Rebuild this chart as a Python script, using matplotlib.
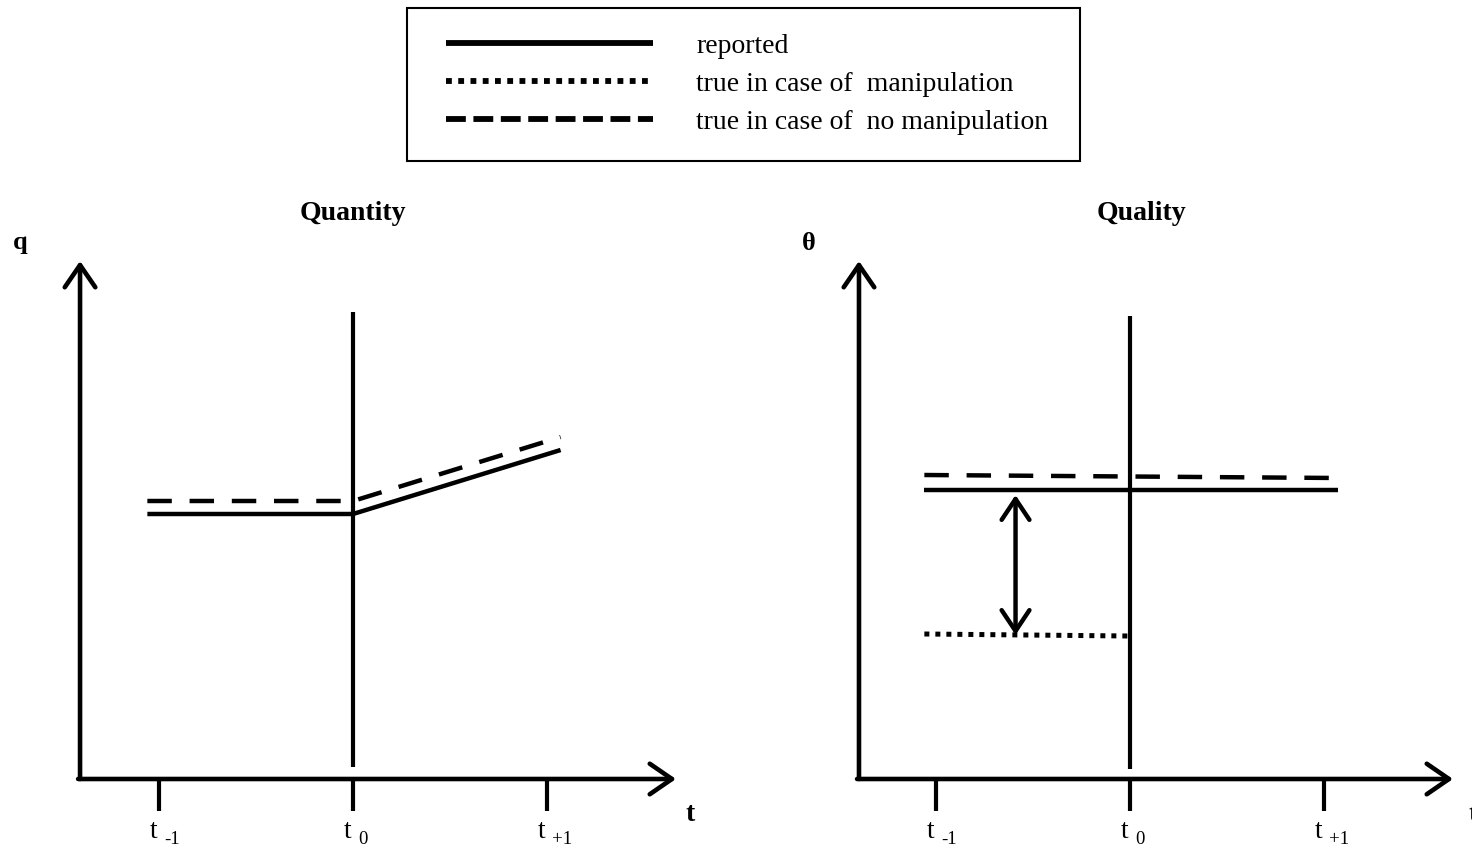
import matplotlib.pyplot as plt
from matplotlib.lines import Line2D
from matplotlib.patches import Rectangle

plt.rcParams['font.family'] = ['Liberation Serif', 'DejaVu Serif']

# --- time points (t_-1, t_0, t_+1) ---
t_pos = [-1, 0, 1]
t_subs = ['-1', '0', '+1']

# --- Quantity panel ---
q_x = [-1.06, 0, 1.07]
q_reported = [2.65, 2.65, 3.29]
q_no_manip = [2.78, 2.78, 3.42]

# --- Quality panel ---
th_x = [-1.06, 1.07]
th_reported = [2.89, 2.89]
th_no_manip = [3.04, 3.01]
th_manip_x = [-1.06, -0.01]
th_manip = [1.45, 1.43]
gap_x = -0.59

DASH = (0, (5.5, 4.0))
DOT = (0, (1, 1.2))

fig = plt.figure(figsize=(14.72, 8.53), dpi=100)

# pixel layout helpers (1 x unit = 194 px, 1 y unit = 100 px)
W, H = 1472, 853
top_px = 180
base_px = 780


def make_panel(x0_px, x1_px, origin_px):
    ax = fig.add_axes([x0_px / W, 0, (x1_px - x0_px) / W, (H - top_px) / H])
    ax.set_xlim((x0_px - origin_px) / 194, (x1_px - origin_px) / 194)
    ax.set_ylim((base_px - H) / 100, (base_px - top_px) / 100)
    ax.axis('off')
    return ax


def draw_axes(ax, x_start, x_end, y_top, xlabel_x, ylabel, ylabel_x):
    arrow = dict(arrowstyle='->,head_length=0.8,head_width=0.55', lw=3.3,
                 color='black', mutation_scale=20, shrinkA=0, shrinkB=0)
    ax.annotate('', xy=(x_end, 0), xytext=(x_start - 0.01, 0), arrowprops=arrow)
    ax.annotate('', xy=(x_start, y_top), xytext=(x_start, 0), arrowprops=arrow)
    for xt, sub in zip(t_pos, t_subs):
        ax.plot([xt, xt], [0, -0.32], color='black', lw=3.0, solid_capstyle='butt')
        ax.text(xt - 0.01, -0.52, 't', ha='right', va='center', fontsize=20)
        ax.text(xt + 0.025, -0.6, sub, ha='left', va='center', fontsize=13.5)
    ax.text(xlabel_x, -0.35, 't', ha='center', va='center', fontsize=20,
            fontweight='bold')
    ax.text(ylabel_x, 5.37, ylabel, ha='center', va='center', fontsize=19,
            fontweight='bold')


# ---------------- Quantity ----------------
ax1 = make_panel(0, 736, 353)
draw_axes(ax1, -1.407, 1.665, 5.18, 1.74, 'q', -1.717)
ax1.plot([0, 0], [0.12, 4.67], color='black', lw=3.0, solid_capstyle='butt')
ax1.plot(q_x, q_reported, color='black', lw=3.2, solid_capstyle='butt')
ax1.plot(q_x, q_no_manip, color='black', lw=3.2, linestyle=DASH,
         dash_capstyle='butt')
ax1.text(0, 5.66, 'Quantity', ha='center', va='center', fontsize=20,
         fontweight='bold')

# ---------------- Quality ----------------
ax2 = make_panel(736, 1472, 1130)
draw_axes(ax2, -1.397, 1.665, 5.18, 1.77, '\u03b8', -1.655)
ax2.plot([0, 0], [0.1, 4.63], color='black', lw=3.0, solid_capstyle='butt')
ax2.plot(th_x, th_reported, color='black', lw=3.2, solid_capstyle='butt')
ax2.plot(th_x, th_no_manip, color='black', lw=3.2, linestyle=DASH,
         dash_capstyle='butt')
ax2.plot(th_manip_x, th_manip, color='black', lw=3.6, linestyle=DOT,
         dash_capstyle='butt')
ax2.annotate('', xy=(gap_x, th_reported[0] - 0.05), xytext=(gap_x, th_manip[0] - 0.01),
             arrowprops=dict(arrowstyle='<->,head_length=0.75,head_width=0.5',
                             lw=3.2, color='black', mutation_scale=20,
                             shrinkA=0, shrinkB=0))
ax2.text(0.06, 5.66, 'Quality', ha='center', va='center', fontsize=20,
         fontweight='bold')

# ---------------- Legend ----------------
handles = [
    Line2D([], [], color='black', lw=4.2, solid_capstyle='butt'),
    Line2D([], [], color='black', lw=4.2, linestyle=(0, (1, 1.1)),
           dash_capstyle='butt'),
    Line2D([], [], color='black', lw=4.2, linestyle=(0, (3.4, 1.3)),
           dash_capstyle='butt'),
]
labels = ['reported', 'true in case of  manipulation',
          'true in case of  no manipulation']
leg = fig.legend(handles, labels, loc='upper left',
                 bbox_to_anchor=(446 / W, 1 - 34 / H), fontsize=20,
                 frameon=False, handlelength=7.45, handletextpad=1.55,
                 labelspacing=0.45, borderpad=0, borderaxespad=0)
fig.patches.append(Rectangle((407 / W, 1 - 162 / H), (1080 - 407) / W, 153 / H,
                             transform=fig.transFigure, fill=False,
                             edgecolor='black', lw=1.5))

fig.savefig('out.png', dpi=100)
